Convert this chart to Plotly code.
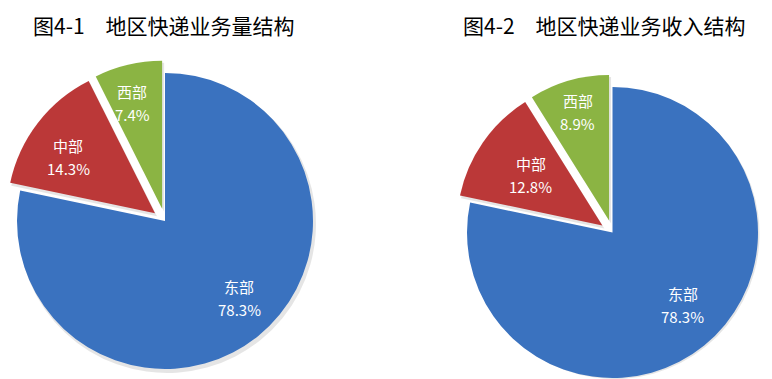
import math
import plotly.graph_objects as go

regions = ["东部", "中部", "西部"]
volume_share = [78.3, 14.3, 7.4]
revenue_share = [78.3, 12.8, 8.9]
titles = ["图4-1\u3000地区快递业务量结构", "图4-2\u3000地区快递业务收入结构"]
colors = ["#3a72bf", "#bb3838", "#8bb443"]
pulls = [0.0, 0.085, 0.085]

W, H = 772, 379
charts = [
    dict(values=volume_share, title=titles[0], cx=165.0, cy=221.0, r=148.0, tx=31,
         label_k=[0.72, 0.70, 0.745], label_dt=[-5.0, -4.4, -2.5]),
    dict(values=revenue_share, title=titles[1], cx=612.5, cy=232.5, r=145.5, tx=461,
         label_k=[0.695, 0.60, 0.775], label_dt=[-5.0, 0.0, 0.0]),
]
LINE_GAP = 11.5


def domain_for(cx, cy, r):
    return dict(x=[max(0, (cx - r) / W), min(1, (cx + r) / W)],
                y=[max(0, 1 - (cy + r) / H), min(1, 1 - (cy - r) / H)])


def text_ann(text, x, y, size, color, anchor="center"):
    return dict(text=text, x=x / W, y=1 - y / H, xref="paper", yref="paper",
                xanchor=anchor, yanchor="middle", showarrow=False,
                font=dict(size=size, color=color, family="Noto Sans CJK SC"))


fig = go.Figure()
annotations = []
for ch in charts:
    vals = ch["values"]
    total = sum(vals)
    r = ch["r"]
    cum = 0.0
    geo = []
    for i, v in enumerate(vals):
        f0, f1 = cum / total, (cum + v) / total
        cum += v
        theta = math.pi * (f0 + f1)  # bisector, clockwise from 12 o'clock
        shift = pulls[i] * r
        cx = ch["cx"] + math.sin(theta) * shift
        cy = ch["cy"] - math.cos(theta) * shift
        geo.append((theta, cx, cy))

    # soft shadow layer
    for i, (theta, cx, cy) in enumerate(geo):
        fig.add_trace(go.Pie(
            labels=regions, values=vals, sort=False, direction="clockwise", rotation=0,
            domain=domain_for(cx + 2, cy + 3, r + 1),
            marker=dict(colors=["rgba(0,0,0,0.10)" if j == i else "rgba(0,0,0,0)" for j in range(3)],
                        line=dict(width=0)),
            textinfo="none", hoverinfo="skip", showlegend=False,
        ))

    for i, (theta, cx, cy) in enumerate(geo):
        fig.add_trace(go.Pie(
            labels=regions, values=vals, sort=False, direction="clockwise", rotation=0,
            domain=domain_for(cx, cy, r),
            marker=dict(colors=[colors[j] if j == i else "rgba(0,0,0,0)" for j in range(3)],
                        line=dict(width=0)),
            textinfo="none", hoverinfo="label+percent", showlegend=False,
        ))
        k = ch["label_k"][i]
        t = theta + math.radians(ch["label_dt"][i])
        lx = cx + math.sin(t) * k * r
        ly = cy - math.cos(t) * k * r
        annotations.append(text_ann(regions[i], lx, ly - LINE_GAP, 15, "white"))
        annotations.append(text_ann(f"{vals[i]:.1f}%", lx, ly + LINE_GAP, 15, "white"))

    annotations.append(text_ann(ch["title"], ch["tx"], 25, 21, "#000000", anchor="left"))

fig.update_layout(
    width=W, height=H,
    margin=dict(l=0, r=0, t=0, b=0),
    paper_bgcolor="white", plot_bgcolor="white",
    annotations=annotations,
)
fig.write_html("out.html", config={"displayModeBar": False},
               post_script="document.body.style.margin='0';")
